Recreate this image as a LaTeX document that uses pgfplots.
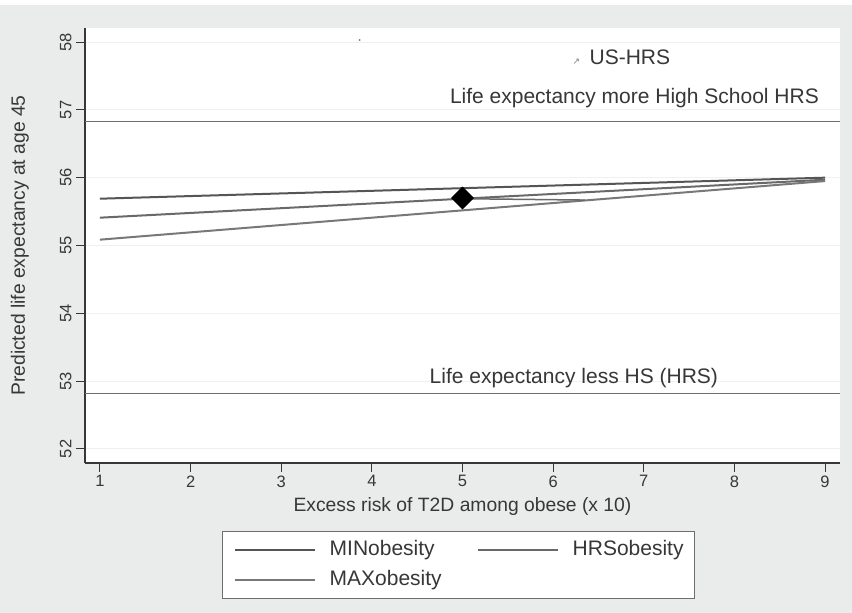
\documentclass[border=0pt]{standalone}
\usepackage{pgfplots}
\pgfplotsset{compat=1.18}
\usepackage{fontspec}
\setmainfont{Liberation Sans}
\newfontfamily\symfont{DejaVu Sans}
\definecolor{bg}{RGB}{234,236,235}
\definecolor{txt}{RGB}{55,55,55}
\definecolor{cmin}{RGB}{85,85,85}
\definecolor{chrs}{RGB}{105,105,105}
\definecolor{cmax}{RGB}{120,120,120}
\definecolor{cref}{RGB}{110,110,110}
\begin{document}
\begin{tikzpicture}[x=1pt,y=1pt]
\fill[white] (0,0) rectangle (852,613);
\fill[bg] (0,0) rectangle (852,608);
\begin{axis}[
  at={(85pt,150pt)}, anchor=south west,
  scale only axis, width=755pt, height=435pt,
  xmin=0.835, xmax=9.165, ymin=51.793, ymax=58.207,
  axis x line*=bottom, axis y line*=left,
  axis background/.style={fill=white},
  axis line style={-, color=txt, line width=1.2pt},
  xtick={1,2,3,4,5,6,7,8,9}, ytick={52,53,54,55,56,57,58},
  tick align=outside, major tick length=9pt,
  tick style={color=txt, line width=1pt},
  ymajorgrids, major grid style={color=black!6, line width=1pt},
  yticklabel style={rotate=90, yshift=1pt},
  tick label style={font=\fontsize{16.5}{16.5}\selectfont, color=txt},
  /pgf/number format/assume math mode=true,
  label style={font=\fontsize{19.3}{20}\selectfont, color=txt},
  xlabel={Excess risk of T2D among obese (x 10)},
  ylabel={Predicted life expectancy at age 45},
  xlabel style={at={(axis description cs:0.5,-0.1011)}, anchor=center},
  ylabel style={at={(axis description cs:-0.0861,0.5)}, anchor=center},
  legend columns=2,
  legend cell align=left,
  legend image code/.code={\draw[#1] (0pt,0pt) -- (80pt,0pt);},
  legend style={at={(0.1815,-0.156)}, anchor=north west,
    draw=cref, line width=1.3pt, fill=white,
    inner xsep=11pt, inner ysep=8.5pt,
    font=\fontsize{21}{22}\selectfont, text=txt,
    nodes={inner sep=0pt, text height=15pt, text depth=5pt},
    row sep=10pt,
    /tikz/every odd column/.append style={column sep=14pt},
    /tikz/every even column/.append style={column sep=35pt},
  },
]
% reference lines
\addplot[cref, line width=1.5pt, forget plot] coordinates {(0.835,56.83) (9.165,56.83)};
\addplot[cref, line width=1.5pt, forget plot] coordinates {(0.835,52.82) (9.165,52.82)};
% series
\addplot[cmin, line width=2pt] coordinates {(1,55.69) (9,56.00)};
\addlegendentry{MINobesity}
\addplot[chrs, line width=2pt] coordinates {(1,55.41) (9,55.97)};
\addlegendentry{HRSobesity}
\addplot[cmax, line width=2pt] coordinates {(1,55.086) (9,55.95)};
\addlegendentry{MAXobesity}
\addplot[chrs, line width=1.5pt, forget plot] coordinates {(5,55.69) (6.35,55.67)};
% baseline point
\addplot[only marks, mark=square*, mark size=7.8pt, mark options={rotate=45, fill=black, draw=black}, forget plot] coordinates {(5,55.70)};
% small artifact dot
\addplot[only marks, mark=*, mark size=0.8pt, color=gray, forget plot] coordinates {(3.865,58.03)};
% annotations
\node[anchor=east, font=\fontsize{21}{22}\selectfont, text=txt, inner sep=0pt] at (axis cs:8.934,57.17) {Life expectancy more High School HRS};
\node[anchor=west, font=\fontsize{21}{22}\selectfont, text=txt, inner sep=0pt] at (axis cs:4.636,53.05) {Life expectancy less HS (HRS)};
\node[anchor=west, font=\fontsize{21}{22}\selectfont, text=txt, inner sep=0pt] at (axis cs:6.40,57.78) {US-HRS};
\node[font=\symfont\fontsize{9}{9}\selectfont, text=gray, inner sep=0pt] at (axis cs:6.256,57.71) {↗};
\end{axis}
\end{tikzpicture}
\end{document}
